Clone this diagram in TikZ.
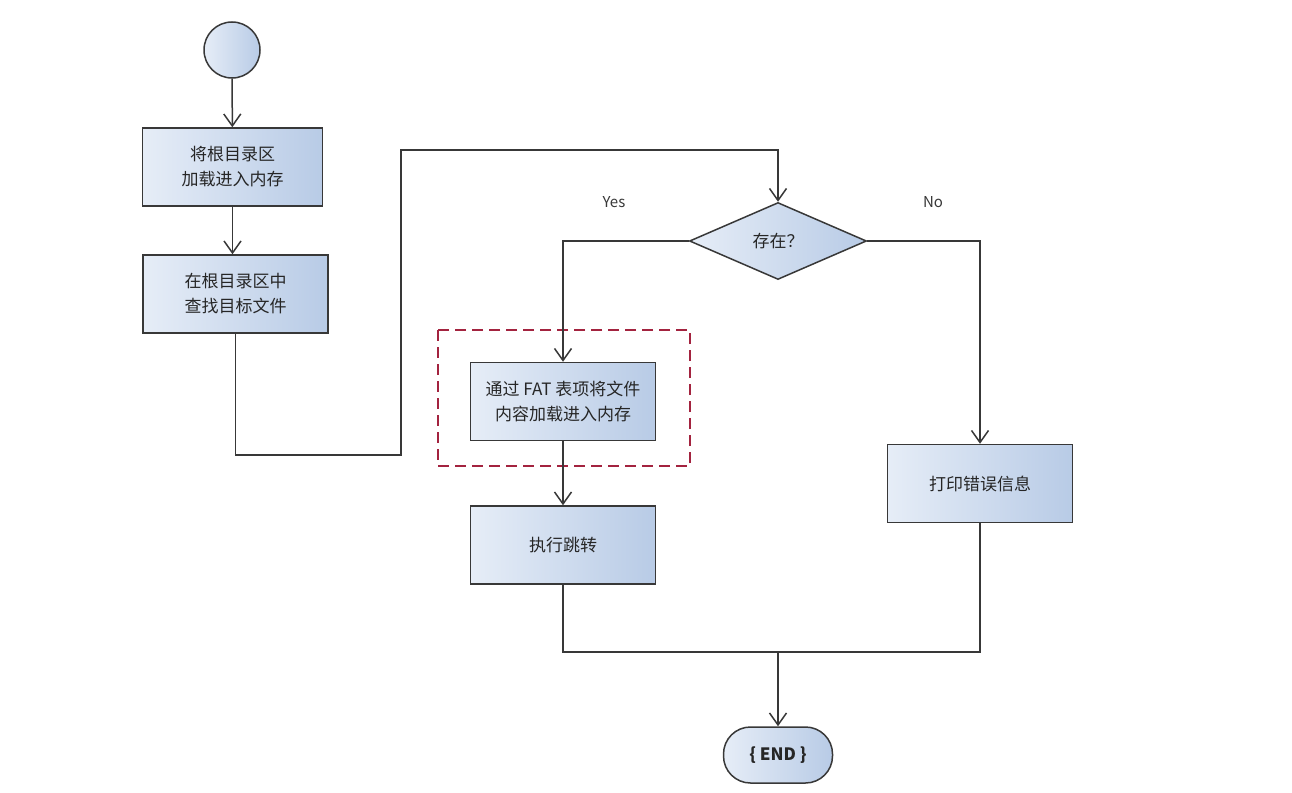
\documentclass[tikz,border=0pt]{standalone}
\usepackage{fontspec}
\newfontfamily\cjk{Noto Sans CJK SC}
\usetikzlibrary{arrows.meta,positioning,shapes.geometric,fit}
\definecolor{lineg}{HTML}{383838}
\definecolor{fillL}{HTML}{E6EDF7}
\definecolor{fillR}{HTML}{B8CBE6}
\definecolor{selred}{HTML}{A3233F}
\definecolor{txtg}{HTML}{262626}

\begin{document}
\begin{tikzpicture}[x=1pt,y=-1pt,>={Straight Barb[length=12pt,width=17pt]},
  every node/.style={font=\cjk\fontsize{17}{25}\selectfont,text=txtg},
  act/.style={draw=lineg,line width=1.5pt,left color=fillL,right color=fillR,
    minimum width=183pt,minimum height=78pt,align=center,inner sep=0pt},
  cond/.style={act,diamond,minimum width=177pt,minimum height=77pt},
  link/.style={draw=lineg,line width=1.5pt},
  lbl/.style={font=\cjk\fontsize{15}{17}\selectfont,text=lineg}]
  \useasboundingbox[fill=white] (0,0) rectangle (1292,792);

  % nodes
  \node[act,circle,minimum width=56pt,minimum height=56pt] (start) at (232,50) {};
  \node[act,minimum width=180pt] (load) at (232.5,167) {将根目录区\\加载进入内存};
  \node[act,minimum width=185pt] (find) at (235.5,294) {在根目录区中\\查找目标文件};
  \node[cond] (exist) at (778,241) {存在？};
  \node[act,minimum width=185pt] (fat) at (563,401.5) {通过 FAT 表项将文件\\内容加载进入内存};
  \node[act,minimum width=185pt] (jump) at (563,545) {执行跳转};
  \node[act,minimum width=185pt] (err) at (980,483.5) {打印错误信息};
  \node[act,minimum width=109pt,minimum height=56pt,rounded corners=27pt] (stop) at (778,755)
    {\bfseries\{ END \}};
  \node[lbl] (yes) at (614,202) {Yes};
  \node[lbl] (no) at (933,202) {No};

  % highlight
  \draw[selred,line width=2.2pt,dash pattern=on 11pt off 6pt] (438,330) rectangle (690,466);

  % bends
  \coordinate (b1) at (401,455);
  \coordinate (b2) at (401,150);
  \coordinate (mrg) at (778,652);

  % connectors
  \draw[link,->] (start) -- (load);
  \draw[link,->] (load) -- (load |- find.north);
  \draw[link,->] (find.south) |- (b1) -- (b2) -| (exist.north);
  \draw[link,->] (exist.west) -| (fat.north);
  \draw[link,->] (fat) -- (jump);
  \draw[link,->] (exist.east) -| (err.north);
  \draw[link] (jump.south) |- (mrg) -| (err.south);
  \draw[link,->] (mrg) -- (stop);
\end{tikzpicture}
\end{document}
